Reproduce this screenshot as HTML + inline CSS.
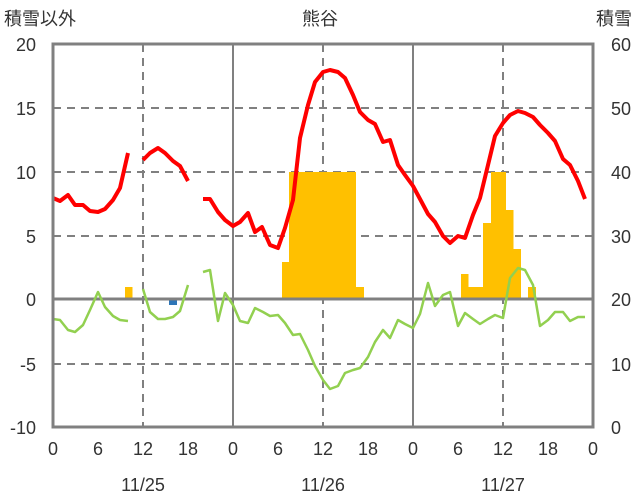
<!DOCTYPE html>
<html><head><meta charset="utf-8"><style>body{margin:0;background:#fff}svg{display:block}text{font-family:"Liberation Sans","Noto Sans CJK JP",sans-serif;fill:#333}</style></head><body>
<svg width="636" height="501" xmlns="http://www.w3.org/2000/svg">
<g stroke="#808080" stroke-width="2" stroke-dasharray="8,6">
<line x1="53" y1="108" x2="593" y2="108"/><line x1="53" y1="172" x2="593" y2="172"/><line x1="53" y1="236" x2="593" y2="236"/><line x1="53" y1="364" x2="593" y2="364"/>
<line x1="143" y1="44" x2="143" y2="427"/><line x1="323" y1="44" x2="323" y2="427"/><line x1="503" y1="44" x2="503" y2="427"/>
</g>
<g stroke="#808080" stroke-width="2"><line x1="233" y1="44" x2="233" y2="427"/><line x1="413" y1="44" x2="413" y2="427"/></g>
<g fill="#ffc000">
<rect x="125" y="287" width="7.5" height="12"/>
<rect x="282" y="262" width="7.5" height="37"/><rect x="289" y="172" width="67" height="127"/><rect x="356" y="287" width="8" height="12"/>
<rect x="461" y="274" width="7.5" height="25"/><rect x="468" y="287" width="15" height="12"/><rect x="483" y="223" width="8" height="76"/><rect x="491" y="172" width="15" height="127"/><rect x="506" y="210" width="7.5" height="89"/><rect x="513" y="249" width="8" height="50"/><rect x="528" y="287" width="8" height="12"/>
</g>
<rect x="169" y="299" width="8" height="6" fill="#2e75b6"/>
<line x1="53" y1="299" x2="593" y2="299" stroke="#808080" stroke-width="3"/>
<g fill="none" stroke="#92d050" stroke-width="2.5" stroke-linejoin="round">
<polyline points="53,319 60,320 68,330 75,332 83,325 90,310 98,292 105,307 113,316 120,320 128,321"/>
<polyline points="143,289 150,312 158,319 165,319 173,317 180,311 188,285"/>
<polyline points="203,272 210,270 218,321 225,293 233,305 240,321 248,323 255,308 263,312 270,316 278,315 285,323 293,335 300,334 308,350 315,366 323,380 330,389 338,386 345,373 353,370 360,368 368,357 375,342 383,330 390,338 398,320 405,324 413,328 420,314 428,283 435,306 443,295 450,292 458,326 465,313 473,319 480,324 488,319 495,315 503,318 510,278 518,268 525,270 533,285 540,326 548,320 555,312 563,312 570,321 578,317 585,317"/>
</g>
<g fill="none" stroke="#ff0000" stroke-width="4" stroke-linejoin="round">
<polyline points="53,198 60,201 68,195 75,205 83,205 90,211 98,212 105,209 113,200 120,188 128,153"/>
<polyline points="143,160 150,153 158,148 165,153 173,161 180,166 188,181"/>
<polyline points="203,199 210,199 218,212 225,220 233,226 240,222 248,213 255,232 262,227 270,245 278,248 285,228 293,200 300,138 308,105 315,82 323,72 330,70 338,72 345,78 353,95 360,112 368,120 375,124 383,142 390,140 398,165 405,175 413,186 420,199 428,214 435,222 443,236 450,243 458,236 465,238 473,215 480,198 488,165 495,136 503,123 510,115 518,111 525,113 533,117 540,125 548,133 555,141 563,159 570,165 578,181 585,199"/>
</g>
<rect x="53" y="44" width="540" height="383" fill="none" stroke="#808080" stroke-width="3"/>
<g font-size="18" text-anchor="end">
<text x="36" y="51">20</text><text x="36" y="115">15</text><text x="36" y="179">10</text><text x="36" y="243">5</text><text x="36" y="306">0</text><text x="36" y="371">-5</text><text x="36" y="434">-10</text>
</g>
<g font-size="18" text-anchor="start">
<text x="611" y="51">60</text><text x="611" y="115">50</text><text x="611" y="179">40</text><text x="611" y="243">30</text><text x="611" y="306">20</text><text x="611" y="371">10</text><text x="611" y="434">0</text>
</g>
<g font-size="18" text-anchor="middle">
<text x="53" y="455">0</text><text x="98" y="455">6</text><text x="143" y="455">12</text><text x="188" y="455">18</text><text x="233" y="455">0</text><text x="278" y="455">6</text><text x="323" y="455">12</text><text x="368" y="455">18</text><text x="413" y="455">0</text><text x="458" y="455">6</text><text x="503" y="455">12</text><text x="548" y="455">18</text><text x="593" y="455">0</text>
<text x="143" y="491">11/25</text><text x="323" y="491">11/26</text><text x="503" y="491">11/27</text>
<text x="320" y="25">熊谷</text>
</g>
<text x="4" y="25" font-size="18">積雪以外</text>
<text x="632" y="25" font-size="18" text-anchor="end">積雪</text>
</svg>
</body></html>
